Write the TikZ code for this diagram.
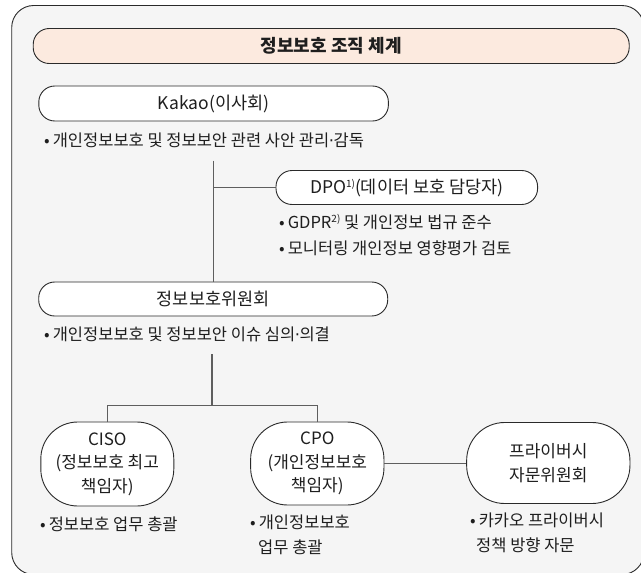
\documentclass[tikz,border=0pt]{standalone}
\usepackage{fontspec}
\setmainfont{Noto Sans CJK KR}
\newfontfamily\dvfont{DejaVu Sans}
\definecolor{framebg}{HTML}{F5F5F5}
\definecolor{peach}{HTML}{FCEADF}
\definecolor{edge}{HTML}{2A2A2A}
\definecolor{conn}{HTML}{5E5E5E}
\definecolor{ink}{HTML}{1E1E1E}
\newcommand{\supnum}[1]{\raisebox{0.6ex}{\fontsize{10}{10}\selectfont #1}}
\newcommand{\mdot}{{\dvfont\kern-0.5pt·\kern-0.5pt}}
\newcommand{\bul}{•\hspace{3pt}}
\begin{document}
\begin{tikzpicture}[x=1pt,y=-1pt,
  pill/.style={draw=edge, line width=0.9pt, fill=white, rounded corners=16pt, inner sep=0pt, text=ink, font=\fontsize{17.5}{20}\selectfont},
  oval/.style={draw=edge, line width=0.9pt, fill=white, rounded corners=37pt, inner sep=0pt, align=center, text=ink, font=\fontsize{17}{23.5}\selectfont},
  note/.style={anchor=west, inner sep=0pt, text=ink, font=\fontsize{16.5}{20}\selectfont},
  link/.style={draw=conn, line width=1.4pt}]
\useasboundingbox (0,0) rectangle (641,573);
\begin{scope}
\clip (0,0) rectangle (641,573);
\draw[draw=edge, line width=0.9pt, fill=framebg, rounded corners=22pt] (11.7,5.5) rectangle (644,574.5);
\end{scope}
% title
\node[pill, fill=peach, minimum width=596pt, minimum height=35pt, font=\fontsize{18}{20}\selectfont\bfseries] (title) at (331.2,46) {정보보호 조직 체계};
% Kakao
\node[pill, minimum width=349.6pt, minimum height=35pt] (kakao) at (213.6,103.5) {Kakao(이사회)};
\node[note] (t1) at (44,140) {\bul 개인정보보호 및 정보보안 관련 사안 관리\mdot 감독};
% DPO
\node[pill, minimum width=261.6pt, minimum height=34pt] (dpo) at (406.8,187.5) {DPO\supnum{1)}(데이터 보호 담당자)};
\node[note] (t2) at (279,222) {\bul GDPR\supnum{2)} 및 개인정보 법규 준수};
\node[note] (t3) at (279,248) {\bul 모니터링 개인정보 영향평가 검토};
% council
\node[pill, minimum width=349pt, minimum height=34pt] (council) at (213.2,299) {정보보호위원회};
\node[note] (t4) at (44,334) {\bul 개인정보보호 및 정보보안 이슈 심의\mdot 의결};
% bottom row
\node[oval, minimum width=133pt, minimum height=84pt] (ciso) at (107.3,464) {CISO\\(정보보호 최고\\책임자)};
\node[oval, minimum width=133.3pt, minimum height=83pt] (cpo) at (317.3,463.5) {CPO\\(개인정보보호\\책임자)};
\node[oval, minimum width=163.3pt, minimum height=81pt, rounded corners=38pt] (priv) at (548.3,463) {프라이버시\\자문위원회};
\node[note] (t5) at (40,524) {\bul 정보보호 업무 총괄};
\node[note] (t6) at (250,522) {\bul 개인정보보호};
\node[note] (t7) at (258,547) {업무 총괄};
\node[note] (t8) at (470,520) {\bul 카카오 프라이버시};
\node[note] (t9) at (476,545) {정책 방향 자문};
% connectors
\coordinate (k1) at (213.3,160.7);
\coordinate (c1) at (211.8,354);
\coordinate (c2) at (211.8,405.7);
\draw[link] (k1) -- (k1 |- council.north);
\draw[link] (k1 |- dpo.west) -- (dpo.west);
\draw[link] (c1) -- (c2);
\draw[link] (ciso.north) |- (c2) -| (cpo.north);
\draw[link] (cpo.east) -- (cpo.east -| priv.west);
\end{tikzpicture}
\end{document}
